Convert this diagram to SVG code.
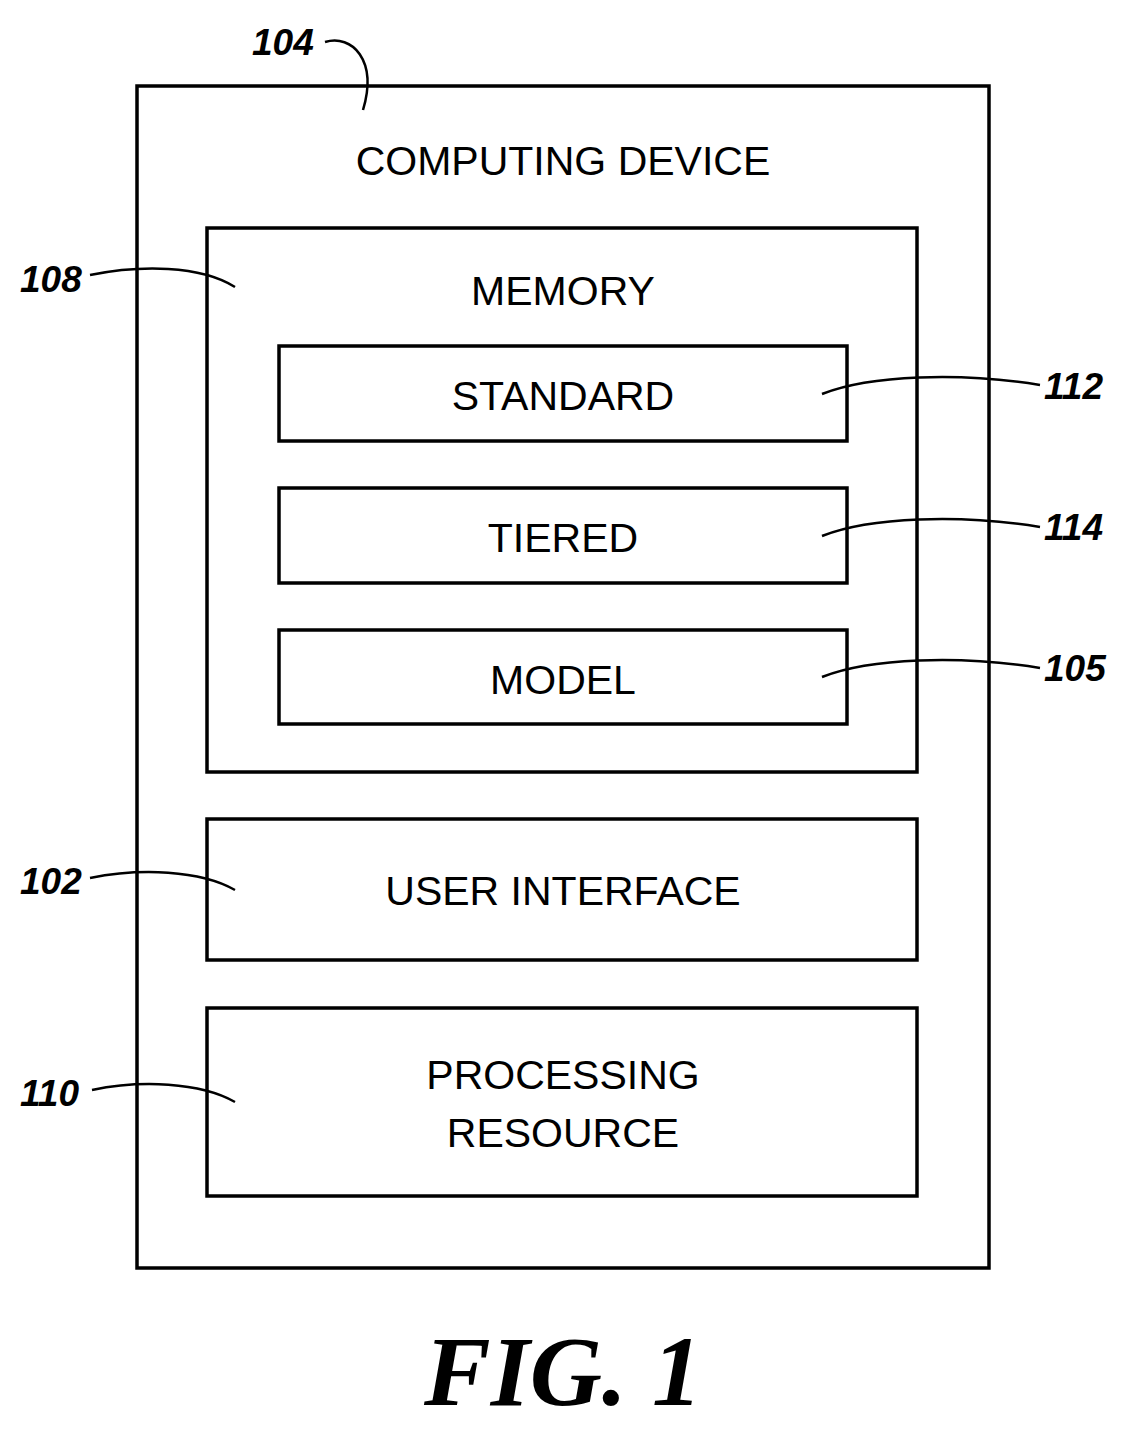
<svg xmlns="http://www.w3.org/2000/svg" width="1130" height="1429" viewBox="0 0 1130 1429">
<style>
.b{fill:none;stroke:#000;stroke-width:3.5}
.t{font-family:"Liberation Sans",Arial,sans-serif;font-size:41px;text-anchor:middle;fill:#000}
.l{font-family:"Liberation Sans",Arial,sans-serif;font-size:37px;font-weight:bold;font-style:italic;fill:#000}
.c{fill:none;stroke:#000;stroke-width:2.5}
</style>
<rect width="1130" height="1429" fill="#fff"/>
<g id="computing-device"><rect class="b" x="137" y="86" width="852" height="1182"/><text class="t" x="563" y="175">COMPUTING DEVICE</text></g>
<g id="memory"><rect class="b" x="207" y="228" width="710" height="544"/><text class="t" x="563" y="305">MEMORY</text></g>
<g id="standard"><rect class="b" x="279" y="346" width="568" height="95"/><text class="t" x="563" y="410">STANDARD</text></g>
<g id="tiered"><rect class="b" x="279" y="488" width="568" height="95"/><text class="t" x="563" y="552">TIERED</text></g>
<g id="model"><rect class="b" x="279" y="630" width="568" height="94"/><text class="t" x="563" y="694">MODEL</text></g>
<g id="user-interface"><rect class="b" x="207" y="819" width="710" height="141"/><text class="t" x="563" y="905">USER INTERFACE</text></g>
<g id="processing-resource"><rect class="b" x="207" y="1008" width="710" height="188"/><text class="t" x="563" y="1089">PROCESSING</text><text class="t" x="563" y="1147">RESOURCE</text></g>
<g id="labels">
<text class="l" x="252" y="55">104</text>
<text class="l" x="20" y="292">108</text>
<text class="l" x="1044" y="399">112</text>
<text class="l" x="1044" y="540">114</text>
<text class="l" x="1044" y="681">105</text>
<text class="l" x="20" y="894">102</text>
<text class="l" x="20" y="1106">110</text>
</g>
<g id="connectors">
<path class="c" d="M325,42 C352,34 378,60 363,110"/>
<path class="c" d="M90,275 C140,265 200,265 235,287"/>
<path class="c" d="M822,394 C870,375 960,372 1040,385"/>
<path class="c" d="M822,536 C870,517 960,514 1040,527"/>
<path class="c" d="M822,677 C870,658 960,655 1040,668"/>
<path class="c" d="M90,878 C140,868 200,870 235,890"/>
<path class="c" d="M92,1090 C140,1080 200,1082 235,1102"/>
</g>
<text x="563" y="1405" style="font-family:'Liberation Serif','Times New Roman',serif;font-size:100px;font-weight:bold;font-style:italic;text-anchor:middle">FIG. 1</text>
</svg>
